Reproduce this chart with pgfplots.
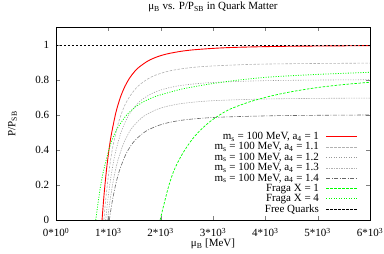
\documentclass[border=0pt]{standalone}
\usepackage{fontspec}
\setmainfont{Liberation Serif}
\usepackage{pgfplots}
\pgfplotsset{compat=1.18}
\begin{document}
\fontsize{11}{13}\selectfont
\begin{tikzpicture}
\useasboundingbox (-56pt,-34pt) rectangle (328pt,220pt);
\begin{axis}[
  at={(0,0)}, anchor=south west,
  scale only axis, width=314pt, height=192.5pt,
  xmin=0, xmax=6000, ymin=0, ymax=1.1,
  xtick={0,1000,2000,3000,4000,5000,6000},
  xticklabels={0*10\textsuperscript{0},1*10\textsuperscript{3},2*10\textsuperscript{3},3*10\textsuperscript{3},4*10\textsuperscript{3},5*10\textsuperscript{3},6*10\textsuperscript{3}},
  ytick={0,0.2,0.4,0.6,0.8,1},
  yticklabels={0,0.2,0.4,0.6,0.8,1},
  tick align=inside, major tick length=4pt,
  xticklabel style={anchor=base, yshift=-17pt},
  yticklabel style={xshift=-3pt},
  axis line style={line width=0.8pt},
  title={μ\textsubscript{B} vs. P/P\textsubscript{SB} in Quark Matter},
  title style={at={(0.5,1)}, anchor=base, yshift=11.5pt},
  xlabel={μ\textsubscript{B} [MeV]},
  every axis x label/.style={at={(axis description cs:0.5,0)}, anchor=base, yshift=-27pt},
  ylabel={P/P\textsubscript{SB}},
  every axis y label/.style={at={(axis description cs:-0.1385,0.5)}, rotate=90, anchor=center},
  legend style={draw=none, fill=none, at={(0.962,0.02)}, anchor=south east, inner sep=0pt,
    row sep=-2.6pt, column sep=5pt},
  legend cell align=right, legend plot pos=right,
  legend image code/.code={\draw[#1] (0pt,0pt) -- (31pt,0pt);},
]
\addplot[color=red, line width=0.9pt, smooth] coordinates {
(880,0) (898,0.0706) (924,0.1646) (968,0.2954) (1012,0.4006) (1056,0.4858) (1144,0.6136) (1232,0.7022) (1320,0.7654) (1408,0.8117) (1496,0.8464) (1584,0.8727) (1760,0.9094) (1936,0.9327) (2112,0.9484) (2376,0.9634) (2640,0.9728) (3080,0.9821) (3520,0.9873) (4400,0.9926) (6000,0.9964)};
\addlegendentry{m\textsubscript{s} = 100 MeV, a\textsubscript{4} = 1}
\addplot[color=black!30, line width=0.6pt, dash pattern=on 2.5pt off 1.5pt, smooth] coordinates {
(915,0) (933,0.0635) (961,0.1481) (1007,0.2659) (1052,0.3605) (1098,0.4372) (1190,0.5522) (1281,0.6320) (1373,0.6889) (1556,0.7618) (1830,0.8185) (2196,0.8536) (2745,0.8755) (3660,0.8886) (4575,0.8933) (6000,0.8965)};
\addlegendentry{m\textsubscript{s} = 100 MeV, a\textsubscript{4} = 1.1}
\addplot[color=black!40, line width=0.6pt, dash pattern=on 1pt off 1.5pt, smooth] coordinates {
(950,0) (969,0.0568) (998,0.1325) (1045,0.2378) (1093,0.3225) (1140,0.3911) (1235,0.4939) (1330,0.5653) (1425,0.6161) (1615,0.6814) (1900,0.7321) (2280,0.7635) (2850,0.7831) (3800,0.7948) (4750,0.7990) (6000,0.8015)};
\addlegendentry{m\textsubscript{s} = 100 MeV, a\textsubscript{4} = 1.2}
\addplot[color=black!30, line width=0.6pt, dash pattern=on 1.5pt off 1pt, smooth] coordinates {
(985,0) (1005,0.0494) (1034,0.1152) (1084,0.2068) (1133,0.2804) (1182,0.3401) (1281,0.4295) (1379,0.4915) (1478,0.5358) (1675,0.5925) (1970,0.6366) (2364,0.6639) (2955,0.6810) (3940,0.6911) (4925,0.6948) (6000,0.6967)};
\addlegendentry{m\textsubscript{s} = 100 MeV, a\textsubscript{4} = 1.3}
\addplot[color=black!60, line width=0.6pt, dash pattern=on 4pt off 1.5pt on 1pt off 1.5pt, smooth] coordinates {
(1020,0) (1040,0.0426) (1071,0.0993) (1122,0.1781) (1173,0.2416) (1224,0.2929) (1326,0.3700) (1428,0.4234) (1530,0.4615) (1734,0.5104) (2040,0.5484) (2448,0.5719) (3060,0.5866) (4080,0.5953) (5100,0.5986) (6000,0.6000)};
\addlegendentry{m\textsubscript{s} = 100 MeV, a\textsubscript{4} = 1.4}
\addplot[color=green, line width=0.7pt, dash pattern=on 2.5pt off 1.5pt, smooth] coordinates {
(1990,0) (2030,0.05) (2080,0.11) (2150,0.19) (2250,0.28) (2400,0.37) (2600,0.46) (2800,0.525) (3000,0.575) (3300,0.63) (3700,0.675) (4100,0.708) (4500,0.733) (5000,0.757) (5500,0.774) (6000,0.787)};
\addlegendentry{Fraga X = 1}
\addplot[color=green, line width=0.8pt, dash pattern=on 1pt off 1.5pt, smooth] coordinates {
(760,0) (800,0.09) (850,0.19) (900,0.27) (983,0.37) (1050,0.44) (1130,0.50) (1207,0.54) (1350,0.60) (1527,0.648) (1700,0.68) (1910,0.707) (2150,0.728) (2400,0.748) (2700,0.765) (3000,0.78) (3500,0.80) (4080,0.817) (5000,0.832) (6000,0.844)};
\addlegendentry{Fraga X = 4}
\addplot[color=black, line width=0.6pt, dash pattern=on 2.5pt off 1.5pt] coordinates {(0,1) (6000,1)};
\addlegendentry{Free Quarks}
\end{axis}
\end{tikzpicture}
\end{document}
